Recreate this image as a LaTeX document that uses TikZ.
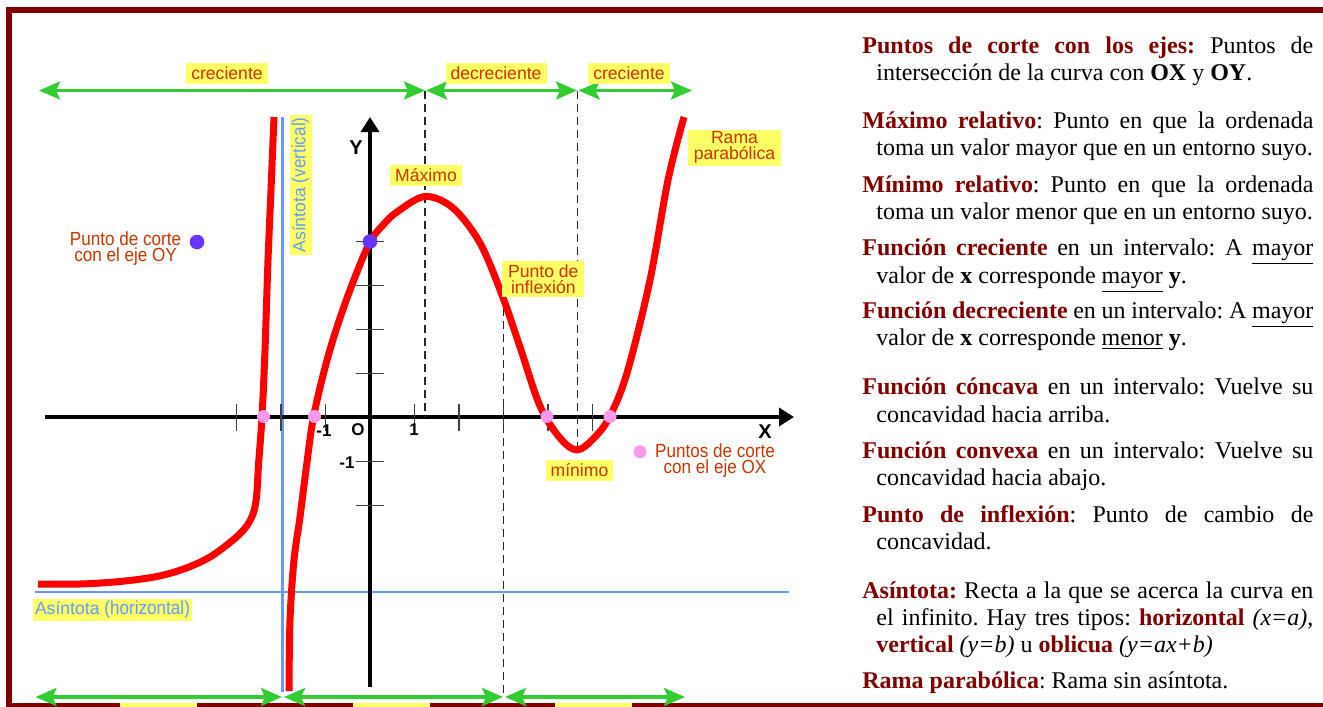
\documentclass[tikz,border=0pt]{standalone}
\usepackage{fontspec}
\setmainfont{Liberation Serif}
\newfontfamily\labfont{Liberation Sans}
\newfontfamily\narrowfont[FakeStretch=0.9]{Liberation Sans}
\usetikzlibrary{arrows.meta}
\definecolor{dred}{RGB}{128,0,0}
\definecolor{igreen}{RGB}{51,204,51}
\definecolor{lyel}{RGB}{255,255,102}
\definecolor{lorange}{RGB}{204,51,0}
\definecolor{lblue}{RGB}{102,153,255}
\definecolor{dpurple}{RGB}{102,51,255}
\definecolor{dpink}{RGB}{255,153,238}
\definecolor{cred}{RGB}{255,0,0}
\frenchspacing
\newcommand{\hd}[1]{\textcolor{dred}{\textbf{#1}}}
\newcommand{\nar}{\narrowfont\fontsize{9.5}{8}\selectfont}
\newcommand{\para}[1]{\parbox[t]{225.5pt}{\fontsize{12}{13.65}\selectfont\frenchspacing\hyphenpenalty=10000\hbadness=10000\relax
  \hangindent=7pt\hangafter=1\relax #1}}
\tikzset{
  lbl/.style={fill=lyel, text=lorange, font=\labfont\fontsize{8.8}{8}\selectfont,
    inner xsep=2.5pt, inner ysep=0pt, minimum height=10.35pt, align=center},
  lbltwo/.style={lbl, minimum height=18.2pt, inner xsep=2.8pt},
  blbl/.style={fill=lyel, text=lblue, font=\labfont\fontsize{8.8}{8}\selectfont,
    inner xsep=1pt, inner ysep=0pt, minimum height=11pt},
  legend/.style={text=lorange, font=\nar, align=center, inner sep=0pt},
  axl/.style={font=\labfont\bfseries\fontsize{8.5}{9}\selectfont, inner sep=0pt},
  axlbig/.style={font=\labfont\bfseries\fontsize{10}{10}\selectfont, inner sep=0pt},
  desc/.style={anchor=base west, inner sep=0pt},
  ivl/.style={igreen, line width=1.75pt,
    {Stealth[length=10.5pt,width=9pt,inset=2pt]}-{Stealth[length=10.5pt,width=9pt,inset=2pt]}},
  axis/.style={black, line width=1.75pt, -{Triangle[length=7.5pt,width=9pt]}},
  tick/.style={black!75, line width=0.8pt},
  asym/.style={lblue, line width=1.4pt},
  guide/.style={black!85, line width=0.55pt, dash pattern=on 4pt off 2.5pt},
  curve/.style={cred, line width=3.5pt, line join=round},
  pdot/.style={circle, fill=dpink, minimum size=6.5pt, inner sep=0pt},
  vdot/.style={circle, fill=dpurple, minimum size=7.3pt, inner sep=0pt}
}
\begin{document}
\begin{tikzpicture}[x=0.5pt,y=-0.5pt]
\useasboundingbox (0,0) rectangle (1323,707);
\clip (0,0) rectangle (1323,707);
% frame
\draw[dred, line width=3pt, line join=miter] (1340,10) -- (9,10) -- (9,706) -- (1340,706);
\fill[lyel] (120,703) rectangle (197,712);
\fill[lyel] (353,703) rectangle (430,712);
\fill[lyel] (555,703) rectangle (632,712);

% asymptotes
\coordinate (avt) at (282.5,117);
\coordinate (avb) at (282.5,692);
\coordinate (ahl) at (35,592);
\coordinate (ahr) at (789,592);
\draw[asym] (avt) -- (avb);
\draw[asym] (ahl) -- (ahr);

% axes
\coordinate (xl) at (45,417);
\coordinate (xr) at (794,417);
\coordinate (yb) at (370,687);
\coordinate (yt) at (370,117);
\draw[axis] (xl) -- (xr);
\draw[axis] (yb) -- (yt);
\foreach \tx in {236.5,281,325.5,414.5,459,503.5,548,592.5}
  \draw[tick] (\tx,404) -- (\tx,431);
\foreach \ty in {241.5,285.5,329.5,373.5,461.5,505.5}
  \draw[tick] (356,\ty) -- (384,\ty);

% guide lines
\coordinate (g1t) at (425,91);
\coordinate (g1b) at (425,417);
\coordinate (g2t) at (577.5,91);
\coordinate (g2b) at (577.5,449);
\coordinate (g3t) at (503.5,308);
\coordinate (g3b) at (503.5,697);
\draw[guide] (g1t) -- (g1b);
\draw[guide] (g2t) -- (g2b);
\draw[guide] (g3t) -- (g3b);

% interval arrows
\coordinate (t1a) at (39,90.5);
\coordinate (t1b) at (425,90.5);
\coordinate (t2a) at (426,90.5);
\coordinate (t2b) at (577,90.5);
\coordinate (t3a) at (578.5,90.5);
\coordinate (t3b) at (692,90.5);
\draw[ivl] (t1a) -- (t1b);
\draw[ivl] (t2a) -- (t2b);
\draw[ivl] (t3a) -- (t3b);
\coordinate (b1a) at (35.5,697);
\coordinate (b1b) at (282,697);
\coordinate (b2a) at (284,697);
\coordinate (b2b) at (503,697);
\coordinate (b3a) at (505,697);
\coordinate (b3b) at (685,697);
\draw[ivl] (b1a) -- (b1b);
\draw[ivl] (b2a) -- (b2b);
\draw[ivl] (b3a) -- (b3b);

% curve
\draw[curve] plot[smooth, tension=0.55] coordinates {(38,584) (80,584) (120,581.5) (157,576.5) (185,568.5) (210,557) (233,540) (246,527) (253,514) (256.5,497) (258.5,465) (262,417) (265,350) (268,260) (271,190) (274,117)};
\draw[curve] plot[smooth, tension=0.55] coordinates {(289,691) (290,620) (294,560) (300,517) (306.5,466) (313.5,417) (326.5,362) (340,318) (355,277) (370,242) (383,225) (397,212) (425,196.5) (453,208) (480,243) (502,295) (520,347) (540,406) (560,438) (577,450) (594,438) (609.5,417) (627,373) (650,280) (668,180) (684,117)};

% dots
\node[vdot] (dy) at (370,241.5) {};
\node[vdot] (dleg) at (197,242) {};
\node[pdot] (p1) at (263.5,416.5) {};
\node[pdot] (p2) at (314.5,416.5) {};
\node[pdot] (p3) at (547,416.5) {};
\node[pdot] (p4) at (610,416.5) {};
\node[pdot] (pleg) at (640,451.7) {};

% axis labels
\node[axlbig] (ly) at (356,148) {Y};
\node[axlbig] (lx) at (765,432) {X};
\node[axl] (lo) at (358,430) {O};
\node[axl] (l1) at (414,430) {1};
\node[axl] (lm1) at (324,431) {-1};
\node[axl] (lym1) at (347,463) {-1};

% labels
\node[lbl] (lc1) at (227,73.3) {creciente};
\node[lbl] (ld) at (496,73.3) {decreciente};
\node[lbl] (lc2) at (629,73.3) {creciente};
\node[lbl] (lmax) at (426,175.3) {Máximo};
\node[lbltwo] (lrama) at (734.5,147.7) {Rama\\parabólica};
\node[lbltwo] (linf) at (543.3,279) {Punto de\\inflexión};
\node[lbl] (lmin) at (579.5,470.3) {mínimo};
\node[blbl] (lah) at (112.5,610) {Asíntota {\nar(horizontal)}};
\node[blbl, rotate=90] (lav) at (300.5,185) {Asíntota {\nar(vertical)}};
\node[legend] (loy) at (125.6,249) {Punto de corte\\con el eje OY};
\node[legend] (lox) at (715,461) {Puntos de corte\\con el eje OX};

% descriptions
\node[desc] (d1) at (862,53) {\para{\hd{Puntos de corte con los ejes:} Puntos de\linebreak intersección de la curva con \textbf{OX} y \textbf{OY}.}};
\node[desc] (d2) at (862,128) {\para{\hd{Máximo relativo}: Punto en que la ordenada\linebreak toma un valor mayor que en un entorno suyo.}};
\node[desc] (d3) at (862,192) {\para{\hd{Mínimo relativo}: Punto en que la ordenada\linebreak toma un valor menor que en un entorno suyo.}};
\node[desc] (d4) at (862,255.7) {\para{\hd{Función creciente} en un intervalo: A \underline{mayor}\linebreak valor de \textbf{x} corresponde \underline{mayor} \textbf{y}.}};
\node[desc] (d5) at (862,318) {\para{\hd{Función decreciente} en un intervalo: A \underline{mayor}\linebreak valor de \textbf{x} corresponde \underline{menor} \textbf{y}.}};
\node[desc] (d6) at (862,394.7) {\para{\hd{Función cóncava} en un intervalo: Vuelve su\linebreak concavidad hacia arriba.}};
\node[desc] (d7) at (862,458) {\para{\hd{Función convexa} en un intervalo: Vuelve su\linebreak concavidad hacia abajo.}};
\node[desc] (d8) at (862,522) {\para{\hd{Punto de inflexión}: Punto de cambio de\linebreak concavidad.}};
\node[desc] (d9) at (862,598) {\para{\hd{Asíntota:} Recta a la que se acerca la curva en\linebreak el infinito. Hay tres tipos: \hd{horizontal} \textit{(x=a)},\linebreak \hd{vertical} \textit{(y=b)} u \hd{oblicua} \textit{(y=ax+b)}}};
\node[desc] (d10) at (862,688.7) {\para{\hd{Rama parabólica}: Rama sin asíntota.}};
\end{tikzpicture}
\end{document}
